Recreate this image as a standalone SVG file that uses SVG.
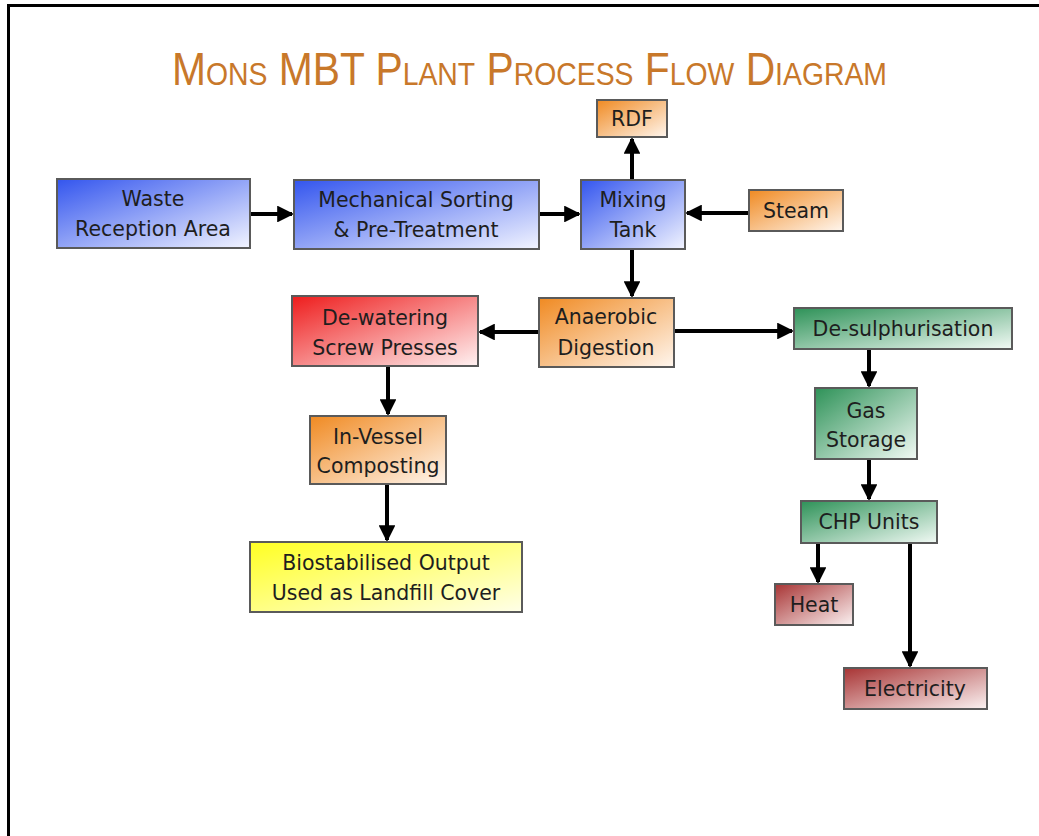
<svg xmlns="http://www.w3.org/2000/svg" width="1039" height="836" viewBox="0 0 1039 836">
<style>
.box{stroke:#5a5a5a;stroke-width:2}
.t{font-family:"DejaVu Sans","Liberation Sans",sans-serif;font-size:20.5px;fill:#1e1e1e;text-anchor:middle}
.c{stroke:#000;stroke-width:4;fill:none;marker-end:url(#ah)}
.title{font-family:"Liberation Sans",Arial,sans-serif;fill:#c8782a;font-variant:small-caps}
</style>
<defs>
<marker id="ah" markerWidth="4.2" markerHeight="4.2" refX="3.7" refY="2.1" orient="auto" markerUnits="strokeWidth"><path d="M0,0 L4.2,2.1 L0,4.2 Z" fill="#000"/></marker>
<linearGradient id="gb" x1="0" y1="0" x2="1" y2="1"><stop offset="0" stop-color="#3355ee"/><stop offset="1" stop-color="#f2f4ff"/></linearGradient>
<linearGradient id="go" x1="0" y1="0" x2="1" y2="1"><stop offset="0" stop-color="#f08a22"/><stop offset="1" stop-color="#fff6ee"/></linearGradient>
<linearGradient id="gr" x1="0" y1="0" x2="1" y2="1"><stop offset="0" stop-color="#ee1c1c"/><stop offset="1" stop-color="#fff2f2"/></linearGradient>
<linearGradient id="gg" x1="0" y1="0" x2="1" y2="1"><stop offset="0" stop-color="#2e9258"/><stop offset="1" stop-color="#f2faf5"/></linearGradient>
<linearGradient id="gy" x1="0" y1="0" x2="1" y2="1"><stop offset="0" stop-color="#ffff22"/><stop offset="1" stop-color="#ffffe8"/></linearGradient>
<linearGradient id="gm" x1="0" y1="0" x2="1" y2="1"><stop offset="0" stop-color="#a83434"/><stop offset="1" stop-color="#fbf2f2"/></linearGradient>
</defs>
<rect width="1039" height="836" fill="#fff"/>
<path d="M8.5,836 V5.5 H1039" fill="none" stroke="#000" stroke-width="3"/>
<text class="title" x="172" y="85" textLength="715" lengthAdjust="spacingAndGlyphs" font-size="46">Mons MBT Plant Process Flow Diagram</text>
<g id="connectors">
<line class="c" x1="250" y1="214" x2="292" y2="214"/>
<line class="c" x1="539" y1="214" x2="579" y2="214"/>
<line class="c" x1="632" y1="180" x2="632" y2="139"/>
<line class="c" x1="749" y1="213" x2="687" y2="213"/>
<line class="c" x1="632" y1="249" x2="632" y2="296"/>
<line class="c" x1="539" y1="332" x2="480" y2="332"/>
<line class="c" x1="674" y1="331" x2="792" y2="331"/>
<line class="c" x1="869" y1="349" x2="869" y2="386"/>
<line class="c" x1="869" y1="459" x2="869" y2="499"/>
<line class="c" x1="388" y1="366" x2="388" y2="414"/>
<line class="c" x1="387" y1="484" x2="387" y2="540"/>
<line class="c" x1="818" y1="543" x2="818" y2="582"/>
<line class="c" x1="910" y1="543" x2="910" y2="666"/>
</g>
<g id="waste"><rect class="box" x="57" y="179" width="193" height="69" fill="url(#gb)"/><text class="t" x="153" y="206">Waste</text><text class="t" x="153" y="236">Reception Area</text></g>
<g id="mech"><rect class="box" x="294" y="180" width="245" height="69" fill="url(#gb)"/><text class="t" x="416" y="207">Mechanical Sorting</text><text class="t" x="416" y="237">&amp; Pre-Treatment</text></g>
<g id="mixing"><rect class="box" x="581" y="180" width="104" height="69" fill="url(#gb)"/><text class="t" x="633" y="207">Mixing</text><text class="t" x="633" y="237">Tank</text></g>
<g id="rdf"><rect class="box" x="597" y="100" width="70" height="37" fill="url(#go)"/><text class="t" x="632" y="126">RDF</text></g>
<g id="steam"><rect class="box" x="749" y="190" width="94" height="41" fill="url(#go)"/><text class="t" x="796" y="218">Steam</text></g>
<g id="anaerobic"><rect class="box" x="539" y="298" width="135" height="69" fill="url(#go)"/><text class="t" x="606" y="324">Anaerobic</text><text class="t" x="606" y="355">Digestion</text></g>
<g id="dewatering"><rect class="box" x="292" y="296" width="186" height="70" fill="url(#gr)"/><text class="t" x="385" y="325">De-watering</text><text class="t" x="385" y="355">Screw Presses</text></g>
<g id="desulph"><rect class="box" x="794" y="308" width="218" height="41" fill="url(#gg)"/><text class="t" x="903" y="336">De-sulphurisation</text></g>
<g id="gas"><rect class="box" x="815" y="388" width="102" height="71" fill="url(#gg)"/><text class="t" x="866" y="418">Gas</text><text class="t" x="866" y="447">Storage</text></g>
<g id="chp"><rect class="box" x="801" y="501" width="136" height="42" fill="url(#gg)"/><text class="t" x="869" y="529">CHP Units</text></g>
<g id="heat"><rect class="box" x="775" y="584" width="78" height="41" fill="url(#gm)"/><text class="t" x="814" y="612">Heat</text></g>
<g id="electricity"><rect class="box" x="844" y="668" width="143" height="41" fill="url(#gm)"/><text class="t" x="915" y="696">Electricity</text></g>
<g id="invessel"><rect class="box" x="310" y="416" width="136" height="68" fill="url(#go)"/><text class="t" x="378" y="444">In-Vessel</text><text class="t" x="378" y="473">Composting</text></g>
<g id="bio"><rect class="box" x="250" y="542" width="272" height="70" fill="url(#gy)"/><text class="t" x="386" y="570">Biostabilised Output</text><text class="t" x="386" y="600">Used as Landfill Cover</text></g>
</svg>
